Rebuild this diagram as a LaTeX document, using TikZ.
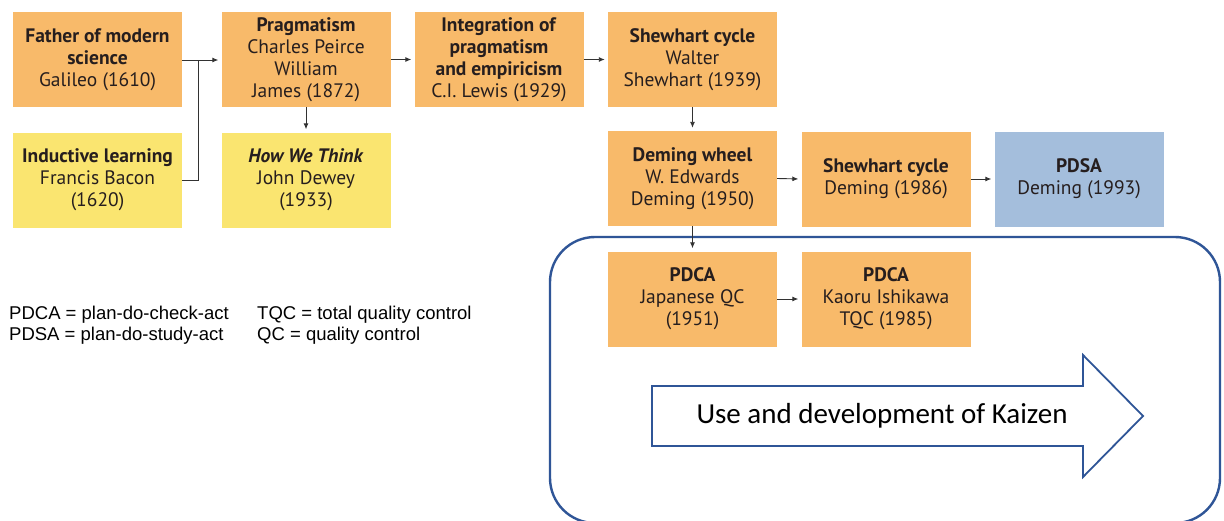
\documentclass[tikz,border=0pt]{standalone}
\usepackage{fontspec}
\setmainfont{PT Sans}
\newfontfamily\legendfont{Liberation Sans}
\newfontfamily\kaizenfont{Carlito}
\usetikzlibrary{arrows.meta}
\definecolor{boxorange}{RGB}{248,186,106}
\definecolor{boxyellow}{RGB}{250,229,112}
\definecolor{boxblue}{RGB}{164,190,220}
\definecolor{inkdark}{RGB}{38,30,30}
\definecolor{frameblue}{RGB}{47,85,151}
\definecolor{linkgray}{RGB}{50,50,50}
\tikzset{
  stage/.style={rectangle, draw=none, fill=boxorange, minimum width=169pt,
    minimum height=95pt, inner sep=0pt, align=center, text=inkdark,
    font=\fontsize{19.5}{22}\selectfont},
  early/.style={stage, fill=boxyellow},
  latest/.style={stage, fill=boxblue},
  link/.style={draw=linkgray, line width=0.9pt},
  linkarrow/.style={link, -{Latex[length=6pt,width=5pt]}, shorten >=3pt},
  legend/.style={anchor=base west, inner sep=0pt, text=black,
    font=\legendfont\fontsize{18.5}{21}\selectfont},
}
\begin{document}
\begin{tikzpicture}[x=1pt,y=-1pt]
  \useasboundingbox[fill=white] (0,0) rectangle (1224,520);

  % development frame
  \draw[frameblue, line width=2.4pt, rounded corners=45pt] (550,237) rectangle (1220,523);

  % historical stages
  \node[stage]  (gal)    at (97.5,59.5)  {\textbf{Father of modern}\\\textbf{science}\\Galileo (1610)};
  \node[early]  (bac)    at (97.5,180)   {\textbf{Inductive learning}\\Francis Bacon\\(1620)};
  \node[stage]  (prag)   at (306,59.5)   {\textbf{Pragmatism}\\Charles Peirce\\William\\James (1872)};
  \node[early]  (dew)    at (306,180)    {\textbf{\textit{How We Think}}\\John Dewey\\(1933)};
  \node[stage]  (integ)  at (499,59.5)   {\textbf{Integration of}\\\textbf{pragmatism}\\\textbf{and empiricism}\\C.I. Lewis (1929)};
  \node[stage]  (walt)   at (692.5,59.5) {\textbf{Shewhart cycle}\\Walter\\Shewhart (1939)};
  \node[stage]  (wheel)  at (692.5,178.5){\textbf{Deming wheel}\\W. Edwards\\Deming (1950)};
  \node[stage]  (shew)   at (886,179)    {\textbf{Shewhart cycle}\\Deming (1986)};
  \node[latest] (pdsa)   at (1079,179)   {\textbf{PDSA}\\Deming (1993)};
  \node[stage]  (pdcaj)  at (692.5,299)  {\textbf{PDCA}\\Japanese QC\\(1951)};
  \node[stage]  (kaoru)  at (886,299)    {\textbf{PDCA}\\Kaoru Ishikawa\\TQC (1985)};

  % connectors
  \coordinate (join) at (198,60);
  \draw[link] (gal.east |- join) -- (join);
  \draw[link] (bac.east) -| (join);
  \draw[linkarrow] (join) -- (prag.west |- join);
  \draw[linkarrow] (prag.east) -- (integ.west);
  \draw[linkarrow] (prag.south) -- (dew.north);
  \draw[linkarrow] (integ.east) -- (walt.west);
  \draw[linkarrow] (walt.south) -- (wheel.north);
  \draw[linkarrow] (wheel.east) -- (shew.west);
  \draw[linkarrow] (shew.east) -- (pdsa.west);
  \draw[linkarrow] (wheel.south) -- (pdcaj.north);
  \draw[linkarrow] (pdcaj.east) -- (kaoru.west);

  % Kaizen arrow
  \draw[frameblue, line width=1.8pt, fill=white, line join=miter]
    (652,386) -- (1083,386) -- (1083,355) -- (1143,416) -- (1083,477)
    -- (1083,446) -- (652,446) -- cycle;
  \node[inner sep=0pt, font=\kaizenfont\fontsize{29}{33}\selectfont] (kaizen) at (882,416) {Use and development of Kaizen};

  % abbreviations
  \node[legend] (l1) at (9,319)   {PDCA = plan-do-check-act};
  \node[legend] (l2) at (9,340)   {PDSA = plan-do-study-act};
  \node[legend] (l3) at (257,319) {TQC = total quality control};
  \node[legend] (l4) at (257,340) {QC = quality control};
\end{tikzpicture}
\end{document}
